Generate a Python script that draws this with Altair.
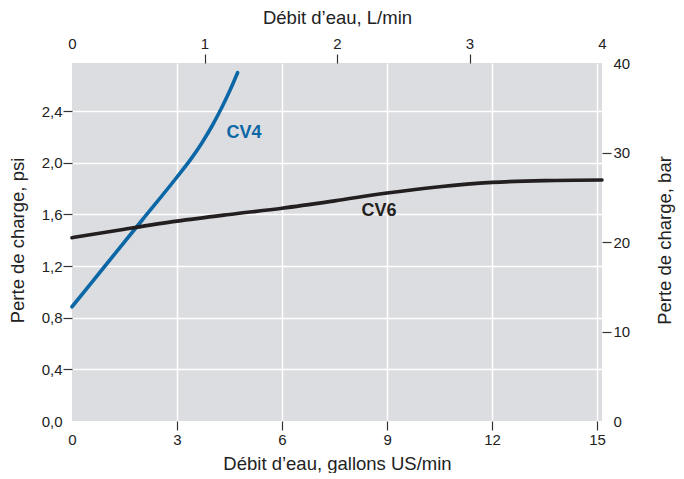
import altair as alt
import pandas as pd

# ---- data ----
cv4_gal = [0.0, 1.0, 2.0, 3.0, 3.4, 3.7, 4.0, 4.3, 4.51, 4.73]
cv4_psi = [0.885, 1.22, 1.555, 1.89, 2.03, 2.15, 2.285, 2.44, 2.56, 2.698]

cv6_gal = [0.0, 1.5, 3.0, 4.5, 6.0, 7.5, 9.0, 10.5, 12.0, 13.5, 15.14]
cv6_psi = [1.420, 1.486, 1.548, 1.600, 1.648, 1.705, 1.766, 1.815, 1.848, 1.862, 1.867]

series_names = ["CV4", "CV6"]
series_colors = ["#0b67a6", "#231f20"]

label_text = ["CV4", "CV6"]
label_gal = [4.91, 8.77]
label_psi = [2.19, 1.588]

gal_ticks = [0, 3, 6, 9, 12, 15]
psi_ticks = [0.0, 0.4, 0.8, 1.2, 1.6, 2.0, 2.4]
lmin_ticks = [0, 1, 2, 3, 4]
bar_ticks = [0, 10, 20, 30, 40]

GAL_MAX = 15.14
PSI_MAX = 2.773
LMIN_MAX = 4
BAR_MAX = 40

lines_df = pd.DataFrame({
    "gal": cv4_gal + cv6_gal,
    "psi": cv4_psi + cv6_psi,
    "series": ["CV4"] * len(cv4_gal) + ["CV6"] * len(cv6_gal),
})
labels_df = pd.DataFrame({"gal": label_gal, "psi": label_psi, "series": label_text})
aux_df = pd.DataFrame({"lmin": [0, LMIN_MAX], "bar": [0, BAR_MAX]})

FONT = "Liberation Sans"
TXT = "#222222"
TICK = "#333333"

color_scale = alt.Scale(domain=series_names, range=series_colors)
xs = alt.Scale(domain=[0, GAL_MAX], nice=False, zero=False)
ys = alt.Scale(domain=[0, PSI_MAX], nice=False, zero=False)


def hide_at(vals):
    test = " || ".join(f"datum.value === {v}" for v in vals)
    return {"condition": {"test": test, "value": 0}, "value": 1}


common_title = dict(titleFont=FONT, titleFontSize=18.5, titleFontWeight="normal",
                    titleColor=TXT, titleBaseline="alphabetic", titleAlign="center")
common_tick = dict(domain=False, tickColor=TICK, tickSize=9, tickWidth=1.2,
                   labelFont=FONT, labelFontSize=15, labelColor=TXT)

bottom_axis = alt.Axis(
    orient="bottom", values=gal_ticks, title="Débit d’eau, gallons US/min",
    grid=True, gridColor="white", gridWidth=1.5,
    gridOpacity=hide_at([0]), tickOpacity=hide_at([0]),
    labelPadding=2, labelFlush=False,
    titleX=265, titleY=48, **common_tick, **common_title,
)
left_axis = alt.Axis(
    orient="left", values=psi_ticks, title="Perte de charge, psi",
    labelExpr="replace(format(datum.value, '.1f'), '.', ',')",
    grid=True, gridColor="white", gridWidth=1.5,
    gridOpacity=hide_at([0]), tickOpacity=hide_at([0]),
    labelPadding=1,
    titleAngle=270, titleX=-48.5, titleY=177, **common_tick, **common_title,
)
top_axis = alt.Axis(
    orient="top", values=lmin_ticks, title="Débit d’eau, L/min",
    grid=False, tickOpacity=hide_at([0, 4]),
    labelPadding=3, labelFlush=False,
    titleX=265, titleY=-40, **common_tick, **common_title,
)
right_axis = alt.Axis(
    orient="right", values=bar_ticks, title="Perte de charge, bar",
    grid=False, tickOpacity=hide_at([0, 40]),
    labelPadding=2, labelFlush=False,
    titleAngle=270, titleX=68, titleY=177, **common_tick, **common_title,
)

lines = alt.Chart(lines_df).mark_line(
    interpolate="monotone", strokeWidth=3.6, strokeCap="round"
).encode(
    x=alt.X("gal:Q", scale=xs, axis=bottom_axis),
    y=alt.Y("psi:Q", scale=ys, axis=left_axis),
    color=alt.Color("series:N", scale=color_scale, legend=None),
    detail="series:N",
)

labels = alt.Chart(labels_df).mark_text(
    font=FONT, fontSize=18, fontWeight="bold", align="center", baseline="alphabetic"
).encode(
    x=alt.X("gal:Q", scale=xs, axis=None),
    y=alt.Y("psi:Q", scale=ys, axis=None),
    text="series:N",
    color=alt.Color("series:N", scale=color_scale, legend=None),
)

aux = alt.Chart(aux_df).mark_point(opacity=0).encode(
    x=alt.X("lmin:Q", scale=alt.Scale(domain=[0, LMIN_MAX], nice=False), axis=top_axis),
    y=alt.Y("bar:Q", scale=alt.Scale(domain=[0, BAR_MAX], nice=False), axis=right_axis),
)

chart = alt.layer(lines, labels, aux).resolve_scale(
    x="independent", y="independent"
).properties(
    width=530, height=358,
    padding={"left": 64, "top": 55, "right": 74, "bottom": 52},
    autosize=alt.AutoSizeParams(type="none"),
    background="white",
).configure_view(fill="#dcdde0", stroke=None)

chart.save("out.html", embed_options={"renderer": "svg", "actions": False})
